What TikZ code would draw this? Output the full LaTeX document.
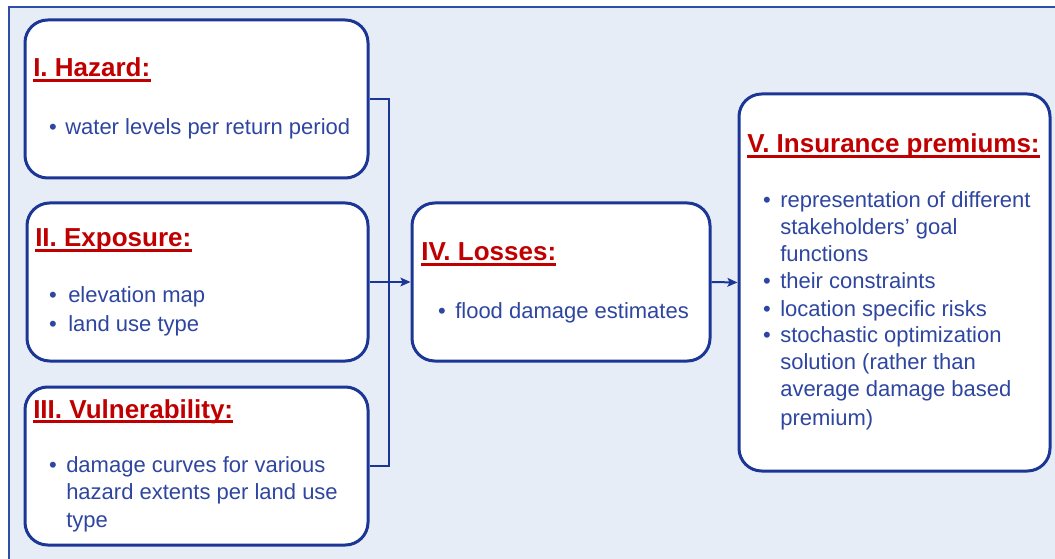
\documentclass[tikz,border=0pt]{standalone}
\usepackage{fontspec}
\setmainfont{Liberation Sans}
\usetikzlibrary{arrows.meta,calc}
\definecolor{bgblue}{RGB}{230,237,247}
\definecolor{framecol}{RGB}{48,78,168}
\definecolor{boxline}{RGB}{28,54,150}
\definecolor{txtblue}{RGB}{46,70,160}
\definecolor{titlered}{RGB}{192,0,0}
\tikzset{
  box/.style={draw=boxline, fill=white, line width=2.25pt, rounded corners=17pt, inner sep=0pt},
  body/.style={anchor=base west, inner sep=0pt, text=txtblue, font=\fontsize{16.5}{20}\selectfont},
  bul/.style={anchor=base, inner sep=0pt, text=txtblue, font=\fontsize{16.5}{20}\selectfont},
  ttl/.style={anchor=base west, inner sep=0pt, text=titlered, font=\bfseries\fontsize{19.5}{24}\selectfont},
  uline/.style={draw=titlered, line width=1.6pt},
  conn/.style={draw=boxline, line width=1.5pt},
  arr/.style={conn, -{Stealth[length=7.5pt,width=6.5pt,inset=1.5pt]}}
}
\begin{document}
\begin{tikzpicture}[x=0.75pt,y=-0.75pt]
\useasboundingbox (0,0) rectangle (1055,559);
\clip (0,0) rectangle (1055,559);
\fill[bgblue] (9,7) rectangle (1070,575);
\draw[draw=framecol, line width=1.6pt] (1070,7) -- (9,7) -- (9,575);
% boxes
\node[box, minimum width={343*0.75pt}, minimum height={158*0.75pt}] (b1) at (196.5,99) {};
\node[box, minimum width={341*0.75pt}, minimum height={158*0.75pt}] (b2) at (197.5,282) {};
\node[box, minimum width={343*0.75pt}, minimum height={158*0.75pt}] (b3) at (196.5,466) {};
\node[box, minimum width={298*0.75pt}, minimum height={158*0.75pt}] (b4) at (561,282) {};
\node[box, minimum width={311*0.75pt}, minimum height={377*0.75pt}] (b5) at (894.5,282.5) {};
% connectors
\draw[conn] (b1.east) -- ++(19,0) |- (b3.east);
\draw[arr] (b2.east) -- (b4.west);
\draw[arr] (b4.east) -- (b5.west);
% box I
\node[ttl] (t1) at (33,77) {I. Hazard:};
\node[bul] (p1) at (53,135) {•};
\node[body] (l1) at (65,135) {water levels per return period};
% box II
\node[ttl] (t2) at (35,247) {II. Exposure:};
\node[bul] (p2a) at (53,302) {•};
\node[body] (l2a) at (68,302) {elevation map};
\node[bul] (p2b) at (53,331) {•};
\node[body] (l2b) at (68,331) {land use type};
% box III
\node[ttl] (t3) at (33,418) {III. Vulnerability:};
\node[bul] (p3) at (53,472) {•};
\node[body] (l3a) at (66,472) {damage curves for various};
\node[body] (l3b) at (66,499) {hazard extents per land use};
\node[body] (l3c) at (66,527) {type};
% box IV
\node[ttl] (t4) at (421,261) {IV. Losses:};
\node[bul] (p4) at (442,318) {•};
\node[body] (l4) at (455,318) {flood damage estimates};
% box V
\node[ttl] (t5) at (747,153) {V. Insurance premiums:};
\node[bul] (p5a) at (767,208) {•};
\node[body] (l5a) at (780,208) {representation of different};
\node[body] (l5b) at (780,235) {stakeholders’ goal};
\node[body] (l5c) at (780,262) {functions};
\node[bul] (p5b) at (767,289) {•};
\node[body] (l5d) at (780,289) {their constraints};
\node[bul] (p5c) at (767,316) {•};
\node[body] (l5e) at (780,316) {location specific risks};
\node[bul] (p5d) at (767,342) {•};
\node[body] (l5f) at (780,342) {stochastic optimization};
\node[body] (l5g) at (780,369) {solution (rather than};
\node[body] (l5h) at (780,396) {average damage based};
\node[body] (l5i) at (780,425) {premium)};
% underlines
\foreach \t in {t1,t2,t3,t4,t5}
  \draw[uline] ($(\t.base west)+(0,3.5)$) -- ($(\t.base east)+(0,3.5)$);
\end{tikzpicture}
\end{document}
